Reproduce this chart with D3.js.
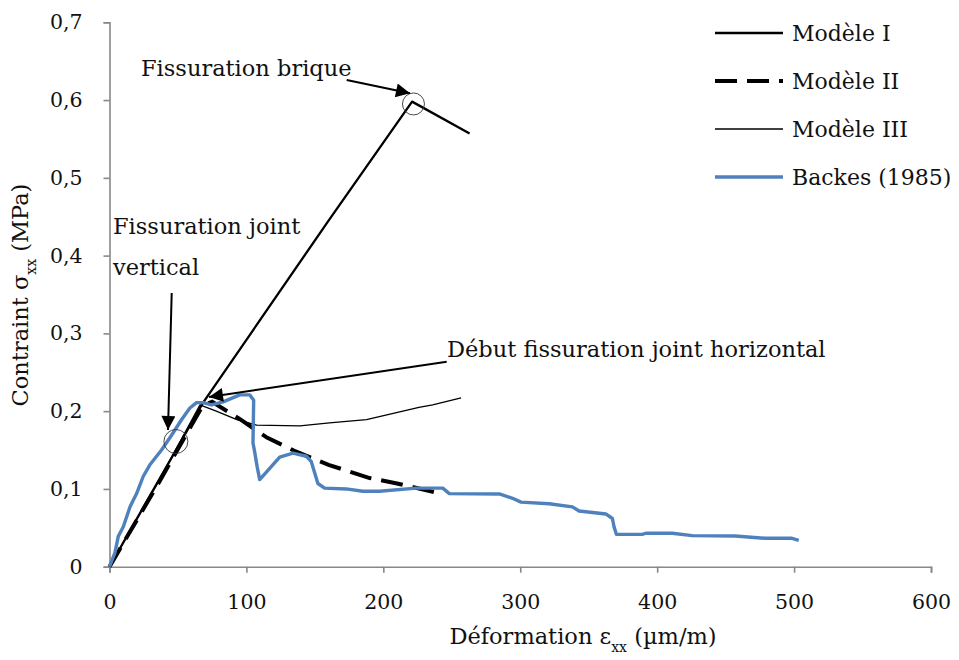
<!DOCTYPE html>
<html>
<head>
<meta charset="utf-8">
<script src="https://cdn.jsdelivr.net/npm/d3@7"></script>
<style>
  body { margin: 0; background: #fff; }
  svg text { font-family: "DejaVu Serif", "Liberation Serif", serif; fill: #111; }
</style>
</head>
<body>
<div id="chart"></div>
<script>
// valeurs (x en µm/m, y en MPa)
var modele1 = [[0,0],[68,0.21],[160,0.445],[221,0.598],[263,0.557]];
var modele2 = [[0,0],[35,0.105],[68,0.207],[75,0.212],[95,0.19],[115,0.166],[135,0.149],[160,0.131],[190,0.114],[210,0.107],[237,0.096]];
var modele3 = [[0,0],[35,0.107],[66,0.208],[78,0.2],[93,0.189],[107.5,0.182],[139,0.181],[160.7,0.185],[187.7,0.189],[226,0.205],[236,0.208],[256.8,0.217]];
var backes = [[0,0],[4,0.018],[6.4,0.039],[10,0.051],[15,0.077],[19.8,0.094],[24.6,0.116],[29.5,0.131],[38,0.15],[45.3,0.169],
  [52.6,0.189],[58.7,0.204],[63.6,0.211],[68.4,0.211],[74.5,0.208],[83,0.212],[95.1,0.221],[102.4,0.221],[105.3,0.214],
  [104.8,0.159],[106,0.148],[107.8,0.129],[109.7,0.112],[124.3,0.141],[134,0.146],[143.8,0.142],[147.4,0.135],[152.2,0.107],
  [157.1,0.101],[172.9,0.1],[185,0.097],[197.2,0.097],[224,0.101],[243.4,0.101],[248.2,0.094],[284.7,0.0935],[294.4,0.088],
  [300.5,0.083],[321.1,0.081],[338.1,0.077],[343,0.0716],[362.5,0.0678],[367.3,0.062],[368.5,0.0514],[370.2,0.0416],
  [389.2,0.0416],[391.6,0.043],[411,0.043],[425.6,0.04],[457,0.0395],[479,0.0365],[498.5,0.0365],[503.4,0.034]];

var xTicks = [0,100,200,300,400,500,600];
var yTicks = [0,0.1,0.2,0.3,0.4,0.5,0.6,0.7];
var noms = ["Modèle I","Modèle II","Modèle III","Backes (1985)"];

var width = 959, height = 660;
var x = d3.scaleLinear().domain([0,600]).range([109.5,931]);
var y = d3.scaleLinear().domain([0,0.7]).range([566.7,22.3]);
var fmt = function(d){ return d3.format(".1~f")(d).replace(".", ","); };

var svg = d3.select("#chart").append("svg")
  .attr("width", width)
  .attr("height", height);

var defs = svg.append("defs");
defs.append("marker")
  .attr("id","fleche")
  .attr("viewBox","0 0 10 10")
  .attr("refX",10).attr("refY",5)
  .attr("markerWidth",19).attr("markerHeight",14)
  .attr("markerUnits","userSpaceOnUse")
  .attr("orient","auto")
  .append("path").attr("d","M0,0L10,5L0,10Z").attr("fill","#000");

// axes
var gx = svg.append("g").attr("transform","translate(0,"+y(0)+")")
  .call(d3.axisBottom(x).tickValues(xTicks).tickSize(6).tickPadding(22).tickFormat(d3.format("d")));
var gy = svg.append("g").attr("transform","translate("+x(0)+",0)")
  .call(d3.axisLeft(y).tickValues(yTicks).tickSize(6).tickPadding(21).tickFormat(function(d){ return d===0 ? "0" : fmt(d); }));
[gx,gy].forEach(function(g){
  g.selectAll("path,line").attr("stroke","#888").attr("stroke-width",1.6);
  g.selectAll("text").style("font-size","20.5px").attr("fill","#111");
});

var line = d3.line().x(function(d){ return x(d[0]); }).y(function(d){ return y(d[1]); });

svg.append("path").datum(modele1).attr("d",line)
  .attr("fill","none").attr("stroke","#000").attr("stroke-width",2.3).attr("stroke-linejoin","round");
svg.append("path").datum(modele3).attr("d",line)
  .attr("fill","none").attr("stroke","#000").attr("stroke-width",1.3).attr("stroke-linejoin","round");
svg.append("path").datum(modele2).attr("d",line)
  .attr("fill","none").attr("stroke","#000").attr("stroke-width",4).attr("stroke-dasharray","22,10");
svg.append("path").datum(backes).attr("d",line)
  .attr("fill","none").attr("stroke","#4f81bd").attr("stroke-width",3.4).attr("stroke-linejoin","round");

// annotations
svg.append("circle").attr("cx",x(222)).attr("cy",y(0.595)).attr("r",11)
  .attr("fill","none").attr("stroke","#333").attr("stroke-width",0.9);
svg.append("circle").attr("cx",x(48.5)).attr("cy",y(0.161)).attr("r",12)
  .attr("fill","none").attr("stroke","#333").attr("stroke-width",0.9);

var fleches = [[346.7,80,410,93.3],[171.7,293,168,430],[446.7,361.7,209,397]];
svg.selectAll(".fleche").data(fleches).enter().append("line")
  .attr("x1",function(d){ return d[0]; }).attr("y1",function(d){ return d[1]; })
  .attr("x2",function(d){ return d[2]; }).attr("y2",function(d){ return d[3]; })
  .attr("stroke","#000").attr("stroke-width",2)
  .attr("marker-end","url(#fleche)");

var notes = [["Fissuration brique",141,76],["Fissuration joint",113,234],["vertical",113,275],["Début fissuration joint horizontal",447,357]];
svg.selectAll(".note").data(notes).enter().append("text")
  .attr("x",function(d){ return d[1]; }).attr("y",function(d){ return d[2]; })
  .style("font-size","22.5px")
  .text(function(d){ return d[0]; });

// titres des axes
var tx = svg.append("text").attr("x",583).attr("y",644).attr("text-anchor","middle").style("font-size","22.5px");
tx.append("tspan").text("Déformation ε");
tx.append("tspan").attr("baseline-shift","sub").style("font-size","14px").text("xx");
tx.append("tspan").text(" (µm/m)");

var ty = svg.append("text").attr("transform","translate(28,295) rotate(-90)").attr("text-anchor","middle").style("font-size","22.5px");
ty.append("tspan").text("Contraint σ");
ty.append("tspan").attr("baseline-shift","sub").style("font-size","14px").text("xx");
ty.append("tspan").text(" (MPa)");

// légende
var styles = [{w:2.3,c:"#000",da:null},{w:4,c:"#000",da:"22,10"},{w:1.3,c:"#000",da:null},{w:3.4,c:"#4f81bd",da:null}];
var leg = svg.selectAll(".leg").data(noms).enter().append("g")
  .attr("transform",function(d,i){ return "translate(715,"+(33+i*48)+")"; });
leg.append("line").attr("x1",0).attr("x2",68).attr("y1",0).attr("y2",0)
  .attr("stroke",function(d,i){ return styles[i].c; })
  .attr("stroke-width",function(d,i){ return styles[i].w; })
  .attr("stroke-dasharray",function(d,i){ return styles[i].da; });
leg.append("text").attr("x",77).attr("y",8).style("font-size","22px").text(function(d){ return d; });
</script>
</body>
</html>
